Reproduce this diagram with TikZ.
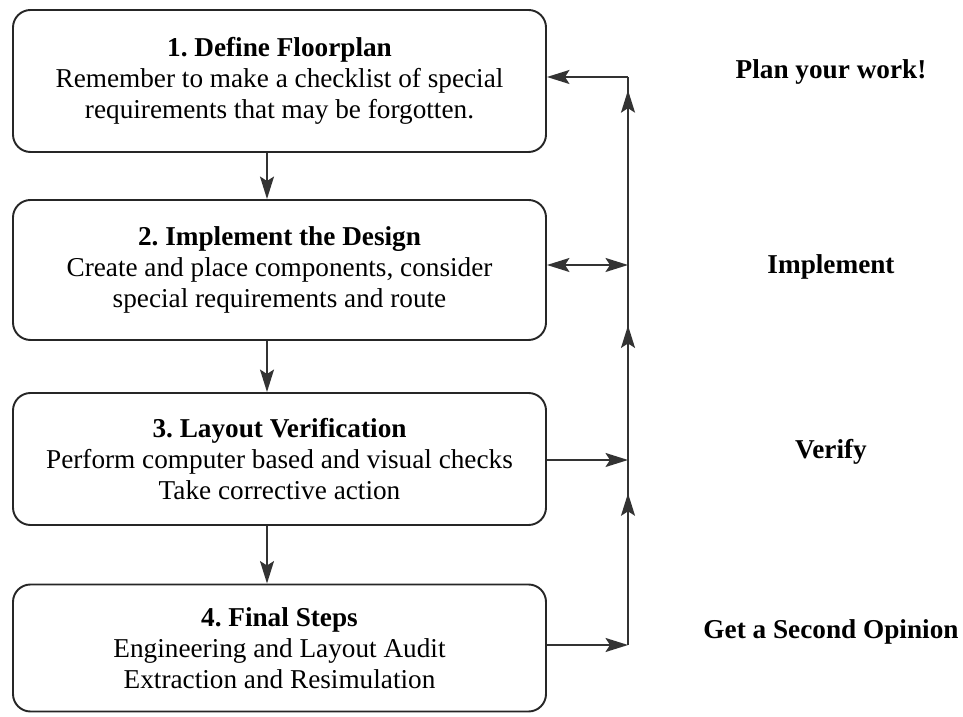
\documentclass[tikz,border=0pt]{standalone}
\usepackage{fontspec}
\setmainfont{Liberation Serif}
\frenchspacing
\usetikzlibrary{arrows.meta,positioning,decorations.markings}
\tikzstyle{stage}=[draw=black!85, line width=1.1pt, rounded corners=0.35cm, minimum width=10.66cm, align=center, inner sep=0pt, font=\fontsize{15.5}{17.5}\selectfont]
\tikzstyle{l1}=[line width=1pt, draw=black!80]
\tikzstyle{tag}=[font=\fontsize{15.5}{17.5}\selectfont\bfseries]
\tikzset{up/.style={l1, postaction={decorate}, decoration={markings, mark=at position #1 with {\arrow{>}}}}}

\begin{document}
\begin{tikzpicture}[node distance=3.78cm, on grid, >={Stealth[length=4.5mm,width=2.8mm,inset=0.9mm]}]

    \useasboundingbox (0,0) rectangle (19.26,14.32);

    \node[stage, minimum height=2.84cm] (s1) at (5.59,12.7) {\textbf{1. Define Floorplan}\\Remember to make a checklist of special\\requirements that may be forgotten.};
    \node[stage, minimum height=2.8cm] (s2) [below = of s1] {\textbf{2. Implement the Design}\\Create and place components, consider\\special requirements and route};
    \node[stage, minimum height=2.64cm] (s3) [below = of s2] {\textbf{3. Layout Verification}\\Perform computer based and visual checks\\Take corrective action};
    \node[stage, minimum height=2.54cm] (s4) [below = of s3] {\textbf{4. Final Steps}\\Engineering and Layout Audit\\Extraction and Resimulation};

    % the rail on the right
    \coordinate (r1) at (12.56,12.78);
    \coordinate (r2) at (12.56,9.02);
    \coordinate (r3) at (12.56,5.12);
    \coordinate (r4) at (12.56,1.42);

    \node[tag] (t1) at (16.62,12.88) {Plan your work!};
    \node[tag] (t2) at (16.62,8.98) {Implement};
    \node[tag] (t3) at (16.62,5.28) {Verify};
    \node[tag] (t4) at (16.62,1.68) {Get a Second Opinion};

    \draw[l1, ->] ([xshift=-0.25cm]s1.south) -- ([xshift=-0.25cm]s2.north);
    \draw[l1, ->] ([xshift=-0.25cm]s2.south) -- ([xshift=-0.25cm]s3.north);
    \draw[l1, ->] ([xshift=-0.25cm]s3.south) -- ([xshift=-0.25cm]s4.north);

    \draw[l1, ->] (r1) -- (s1.east |- r1);
    \draw[l1, <->] (s2.east |- r2) -- (r2);
    \draw[l1, ->] (s3.east |- r3) -- (r3);
    \draw[l1, ->] (s4.east |- r4) -- (r4);

    \draw[up=0.82] (r4) -- (r3);
    \draw[up=0.69] (r3) -- (r2);
    \draw[up=0.93] (r2) -- (r1);

\end{tikzpicture}
\end{document}
